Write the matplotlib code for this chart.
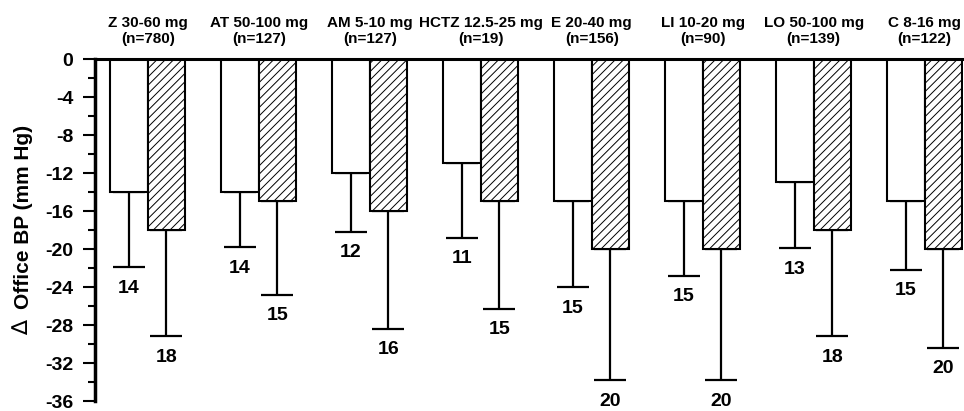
#! /usr/bin/env python3
import numpy as np
import matplotlib
matplotlib.use("Agg")
import matplotlib.pyplot as plt

plt.rcParams['font.family'] = ['Liberation Sans', 'DejaVu Sans']
plt.rcParams['font.weight'] = 'bold'
plt.rcParams['axes.unicode_minus'] = False
plt.rcParams['hatch.linewidth'] = 0.7

# drug groups (dose range + n)
groups = ["Z 30-60 mg", "AT 50-100 mg", "AM 5-10 mg", "HCTZ 12.5-25 mg",
          "E 20-40 mg", "LI 10-20 mg", "LO 50-100 mg", "C 8-16 mg"]
n_pts = [780, 127, 127, 19, 156, 90, 139, 122]

# mean change in office BP (white = first bar, hatched = second bar)
mean_white = [-14, -14, -12, -11, -15, -15, -13, -15]
mean_hatch = [-18, -15, -16, -15, -20, -20, -18, -20]

# downward error (SD)
sd_white = [7.9, 5.8, 6.2, 7.8, 9.0, 7.8, 6.9, 7.2]
sd_hatch = [11.2, 9.8, 12.4, 11.3, 13.8, 13.8, 11.2, 10.4]

W, H = 964, 411
fig = plt.figure(figsize=(W / 100, H / 100), dpi=100)
ax = fig.add_axes([95 / W, 10 / H, 868 / W, 342 / H])

x = np.arange(len(groups))
bw = 0.338
xw = x
xh = x + bw

ax.bar(xw, mean_white, width=bw, color="white", edgecolor="black", linewidth=1.5, zorder=2)
ax.bar(xh, mean_hatch, width=bw, color="white", edgecolor="black", linewidth=1.5,
       hatch="////", zorder=2)

for xs, m, s in [(xw, mean_white, sd_white), (xh, mean_hatch, sd_hatch)]:
    m = np.array(m)
    s = np.array(s)
    ax.errorbar(xs, m, yerr=[s, np.zeros_like(s)], fmt="none", ecolor="black",
                elinewidth=1.6, capsize=11.5, capthick=1.6, zorder=1)
    for xi, mi, si in zip(xs, m, s):
        ax.annotate(str(int(abs(mi))), (xi, mi - si), xytext=(0, -9),
                    textcoords="offset points", ha="center", va="top",
                    fontsize=14, fontweight="bold")

for xi, g, n in zip(x, groups, n_pts):
    ax.annotate("%s\n(n=%d)" % (g, n), (xi + bw / 2, 1.0), xycoords=("data", "axes fraction"),
                xytext=(0, 9.5), textcoords="offset points", ha="center", va="bottom",
                fontsize=11, fontweight="bold", linespacing=1.2)

ax.set_xlim(-0.306, 7.514)
ax.set_ylim(-36, 0)
ax.set_xticks([])
ax.set_yticks(np.arange(0, -37, -4))
ax.set_yticks(np.arange(-2, -36, -4), minor=True)
ax.tick_params(axis="y", which="major", length=8.6, width=1.5, pad=7, labelsize=14)
ax.tick_params(axis="y", which="minor", length=5, width=1.5)
for lab in ax.get_yticklabels():
    lab.set_fontweight("bold")

ax.spines["right"].set_visible(False)
ax.spines["bottom"].set_visible(False)
ax.spines["left"].set_linewidth(2.5)
ax.spines["top"].set_linewidth(2.2)

# y label: thin delta + bold text, rotated
fig.text(24 / W, 1 - 217 / H, "Office BP (mm Hg)", rotation=90, ha="center", va="center",
         fontsize=15, fontweight="bold")
fig.text(22 / W, 1 - 328 / H, "\u2206", rotation=90, ha="center", va="center",
         fontsize=16, fontweight="normal", family=["DejaVu Sans"])

fig.savefig("out.png", dpi=100)
